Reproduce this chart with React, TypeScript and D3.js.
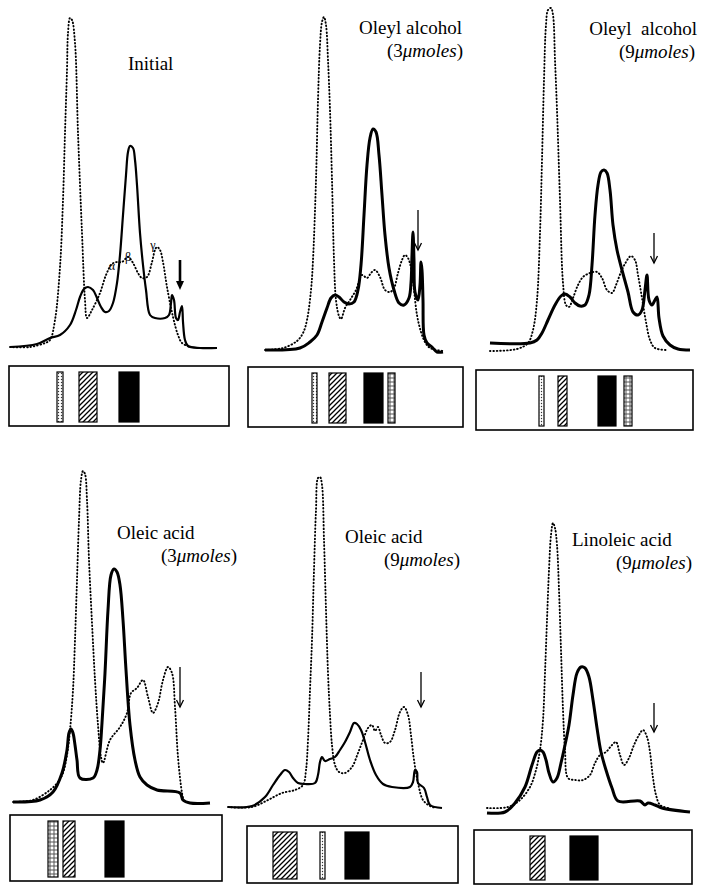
import React from 'react';
import * as d3 from 'd3';

type Pt = [number, number];
type Band = { kind: 'dots' | 'hatch' | 'solid' | 'stipple'; from: number; to: number };

// [scan distance, absorbance above baseline]
const initialDotted: Pt[] = [
  [0, 3], [20, 3], [35, 7], [40, 10], [45, 30], [50, 83], [53, 150], [55, 217], [57, 280], [58, 317],
  [60, 332], [62, 330], [65, 307], [68, 217], [72, 117], [75, 50], [77, 32], [82, 40], [90, 57], [96, 75],
  [102, 86], [107, 88], [112, 88], [118, 93], [123, 87], [128, 77], [132, 72], [137, 73], [142, 88],
  [145, 100], [147, 103], [150, 100], [153, 88], [157, 63], [163, 33], [168, 15], [172, 7], [180, 3],
];
const initialSolid: Pt[] = [
  [0, 3], [27, 6], [40, 12], [50, 15], [60, 25], [66, 40], [70, 53], [74, 61], [78, 63], [83, 60],
  [87, 52], [91, 43], [95, 38], [99, 39], [103, 47], [107, 67], [110, 95], [113, 135], [116, 175],
  [118, 198], [120, 204], [123, 202], [125, 190], [127, 165], [130, 117], [133, 85], [136, 60], [140, 35],
  [145, 32], [155, 32], [159, 35], [161, 47], [162, 55], [164, 50], [166, 32], [168, 30], [170, 38],
  [172, 44], [173, 28], [175, 10], [178, 4], [190, 2], [207, 2],
];
const oleyl3Dotted: Pt[] = [
  [3, 0], [21, 2], [35, 9], [41, 17], [45, 30], [49, 60], [51, 90], [54, 170], [56, 250], [58, 305],
  [60, 328], [62, 333], [64, 325], [66, 290], [68, 240], [70, 170], [72, 90], [74, 50], [77, 34], [79, 31],
  [83, 42], [88, 50], [94, 60], [100, 75], [105, 72], [109, 77], [113, 80], [118, 73], [123, 60], [128, 58],
  [132, 62], [136, 77], [140, 90], [143, 95], [146, 92], [149, 82], [152, 60], [155, 35], [159, 18],
  [163, 8], [168, 2], [181, -1],
];
const oleyl3Solid: Pt[] = [
  [3, 0], [38, 2], [48, 8], [55, 15], [60, 28], [65, 42], [69, 52], [73, 55], [77, 53], [82, 48], [87, 46],
  [92, 48], [96, 60], [99, 85], [102, 135], [105, 185], [108, 212], [111, 221], [114, 218], [117, 195],
  [120, 155], [123, 115], [127, 82], [132, 60], [137, 47], [142, 45], [147, 52], [149, 67], [150, 95],
  [151, 118], [152, 90], [153, 58], [156, 50], [158, 65], [159, 88], [160, 80], [161, 50], [162, 15],
  [165, 7], [170, 3], [175, -2], [181, -2],
];
const oleyl9Dotted: Pt[] = [
  [2, -1], [29, 1], [40, 7], [45, 20], [49, 50], [52, 117], [54, 190], [56, 270], [58, 325], [60, 340],
  [63, 342], [65, 335], [67, 290], [69, 240], [72, 150], [75, 67], [78, 45], [81, 43], [85, 52], [90, 65],
  [95, 73], [102, 77], [109, 78], [114, 72], [119, 60], [124, 57], [128, 65], [133, 78], [138, 88],
  [143, 94], [147, 90], [150, 75], [154, 52], [158, 28], [162, 10], [167, 2], [180, 0],
];
const oleyl9Solid: Pt[] = [
  [2, 7], [42, 7], [49, 10], [54, 17], [60, 30], [67, 45], [73, 54], [77, 56], [82, 53], [87, 47], [92, 44],
  [97, 45], [101, 55], [104, 85], [107, 135], [110, 165], [113, 178], [116, 180], [119, 177], [122, 160],
  [125, 125], [129, 100], [134, 80], [140, 58], [145, 38], [150, 35], [154, 40], [157, 60], [159, 75],
  [161, 50], [164, 45], [167, 50], [169, 53], [171, 32], [175, 14], [182, 5], [190, 1], [202, 0],
];
const oleic3Dotted: Pt[] = [
  [3, 3], [23, 5], [40, 15], [48, 23], [53, 32], [57, 50], [60, 75], [63, 115], [65, 165], [67, 225],
  [69, 285], [71, 325], [73, 334], [75, 331], [77, 305], [79, 245], [82, 182], [85, 125], [88, 80], [91, 48],
  [93, 42], [100, 65], [110, 78], [117, 92], [121, 112], [127, 117], [133, 125], [138, 108], [143, 92],
  [148, 102], [153, 125], [158, 138], [162, 132], [165, 98], [168, 48], [172, 12], [174, 3],
];
const oleic3Solid: Pt[] = [
  [3, 3], [30, 5], [43, 13], [52, 32], [57, 55], [59, 72], [61, 76], [63, 72], [65, 60], [67, 45], [70, 27],
  [83, 27], [87, 35], [90, 55], [92, 82], [95, 132], [98, 195], [101, 230], [104, 236], [107, 233],
  [110, 220], [113, 185], [116, 135], [120, 80], [125, 45], [130, 28], [137, 20], [147, 15], [170, 12],
  [173, 5], [180, 2], [200, 2],
];
const oleic9Dotted: Pt[] = [
  [0, 1], [24, 1], [40, 8], [54, 15], [67, 18], [75, 23], [78, 38], [80, 68], [82, 118], [84, 168],
  [86, 238], [88, 298], [90, 330], [92, 331], [94, 323], [96, 268], [98, 198], [100, 135], [102, 93],
  [104, 63], [107, 43], [111, 36], [117, 35], [124, 41], [130, 55], [135, 68], [140, 80], [144, 83],
  [147, 77], [150, 81], [153, 73], [157, 65], [162, 66], [167, 78], [172, 96], [176, 101], [180, 93],
  [183, 73], [186, 48], [190, 25], [195, 8], [202, 2], [208, 0],
];
const oleic9Solid: Pt[] = [
  [0, 1], [24, 2], [37, 11], [45, 23], [52, 33], [57, 38], [61, 36], [65, 30], [70, 25], [77, 24], [87, 25],
  [90, 33], [92, 46], [94, 51], [97, 47], [102, 49], [107, 51], [112, 58], [117, 66], [122, 76], [126, 85],
  [129, 84], [133, 78], [137, 66], [142, 48], [148, 33], [155, 24], [164, 21], [182, 21], [185, 26],
  [187, 38], [189, 36], [190, 25], [196, 20], [199, 11], [202, 3], [214, 0],
];
const linoleic9Dotted: Pt[] = [
  [0, 2], [21, 3], [33, 10], [43, 23], [49, 40], [53, 60], [56, 90], [58, 137], [60, 190], [62, 240],
  [64, 275], [66, 287], [68, 282], [70, 265], [72, 220], [74, 160], [76, 100], [78, 60], [81, 32], [88, 30],
  [96, 30], [103, 35], [108, 47], [113, 55], [119, 58], [125, 65], [129, 68], [133, 55], [137, 45],
  [142, 52], [147, 65], [152, 75], [156, 80], [160, 73], [163, 58], [166, 32], [169, 15], [173, 5], [181, 2],
];
const linoleic9Solid: Pt[] = [
  [0, -3], [18, -2], [28, 7], [38, 23], [45, 45], [50, 58], [53, 60], [56, 58], [59, 50], [62, 37], [66, 28],
  [70, 32], [74, 47], [78, 65], [82, 85], [86, 115], [90, 137], [94, 143], [98, 142], [102, 133], [106, 110],
  [110, 82], [114, 58], [119, 40], [125, 22], [131, 9], [153, 9], [158, 5], [161, 7], [168, 5], [175, 2],
  [203, -2],
];

// gel strip bands: [from, to] along the same scan distance
const initialBands: Band[] = [
  { kind: 'dots', from: 47, to: 53 }, { kind: 'hatch', from: 69, to: 87 }, { kind: 'solid', from: 109, to: 129 },
];
const oleyl3Bands: Band[] = [
  { kind: 'dots', from: 50, to: 55 }, { kind: 'hatch', from: 67, to: 84 },
  { kind: 'solid', from: 102, to: 121 }, { kind: 'stipple', from: 126, to: 133 },
];
const oleyl9Bands: Band[] = [
  { kind: 'dots', from: 51, to: 56 }, { kind: 'hatch', from: 70, to: 79 },
  { kind: 'solid', from: 110, to: 128 }, { kind: 'stipple', from: 136, to: 144 },
];
const oleic3Bands: Band[] = [
  { kind: 'stipple', from: 38, to: 48 }, { kind: 'hatch', from: 53, to: 65 }, { kind: 'solid', from: 95, to: 114 },
];
const oleic9Bands: Band[] = [
  { kind: 'hatch', from: 45, to: 69 }, { kind: 'dots', from: 92, to: 97 }, { kind: 'solid', from: 117, to: 141 },
];
const linoleic9Bands: Band[] = [
  { kind: 'hatch', from: 43, to: 58 }, { kind: 'solid', from: 83, to: 111 },
];

// arrow: [distance, top absorbance, tip absorbance]
const arrows: [number, number, number][] = [
  [170, 90, 60], [156, 140, 100], [166, 117, 87], [170, 138, 98], [193, 136, 101], [167, 107, 78],
];

const titles: [string, string | null][] = [
  ['Initial', null],
  ['Oleyl alcohol', '3'],
  ['Oleyl  alcohol', '9'],
  ['Oleic acid', '3'],
  ['Oleic acid', '9'],
  ['Linoleic acid', '9'],
];

const panels = [
  { dotted: initialDotted, solid: initialSolid, bands: initialBands, x0: 10, y0: 350, sw: 2.2,
    box: [9, 366, 220, 60], t1: [128, 70, 'start'], t2: null, bold: true },
  { dotted: oleyl3Dotted, solid: oleyl3Solid, bands: oleyl3Bands, x0: 262, y0: 350, sw: 3,
    box: [248, 367, 215, 60], t1: [462, 34, 'end'], t2: [463, 57, 'end'], bold: false },
  { dotted: oleyl9Dotted, solid: oleyl9Solid, bands: oleyl9Bands, x0: 488, y0: 350, sw: 3,
    box: [476, 370, 217, 60], t1: [697, 35, 'end'], t2: [695, 58, 'end'], bold: false },
  { dotted: oleic3Dotted, solid: oleic3Solid, bands: oleic3Bands, x0: 10, y0: 805, sw: 3,
    box: [10, 815, 212, 66], t1: [117, 539, 'start'], t2: [237, 562, 'end'], bold: false },
  { dotted: oleic9Dotted, solid: oleic9Solid, bands: oleic9Bands, x0: 228, y0: 808, sw: 2.2,
    box: [247, 826, 211, 57], t1: [345, 543, 'start'], t2: [460, 566, 'end'], bold: false },
  { dotted: linoleic9Dotted, solid: linoleic9Solid, bands: linoleic9Bands, x0: 487, y0: 810, sw: 3,
    box: [474, 830, 218, 54], t1: [572, 546, 'start'], t2: [692, 569, 'end'], bold: false },
];

const greek: [string, number, number][] = [['α', 102, 80], ['β', 118, 89], ['γ', 143, 101]];

const FONT = '"Liberation Serif", "DejaVu Serif", serif';

const Panel: React.FC<{ p: typeof panels[number]; i: number }> = ({ p, i }) => {
  const x = d3.scaleLinear().domain([0, 220]).range([p.x0, p.x0 + 220]);
  const y = d3.scaleLinear().domain([0, 340]).range([p.y0, p.y0 - 340]);
  const line = d3.line<Pt>().x(d => x(d[0])).y(d => y(d[1])).curve(d3.curveCatmullRom.alpha(0.5));
  const [ax, aTop, aTip] = arrows[i];
  const [bx, by, bw, bh] = p.box;
  const [title, amount] = titles[i];
  const tipY = y(aTip);
  return (
    <g>
      <path d={line(p.dotted) || ''} fill="none" stroke="#000" strokeWidth={1.9}
        strokeDasharray="0.6 2.8" strokeLinecap="round" />
      <path d={line(p.solid) || ''} fill="none" stroke="#000" strokeWidth={p.sw} strokeLinejoin="round" />
      {p.bold ? (
        <g>
          <line x1={x(ax)} x2={x(ax)} y1={y(aTop)} y2={tipY - 6} stroke="#000" strokeWidth={2.6} />
          <path d={`M${x(ax) - 4},${tipY - 9} L${x(ax) + 4},${tipY - 9} L${x(ax)},${tipY} Z`} fill="#000" />
        </g>
      ) : (
        <g stroke="#000" strokeWidth={1.3} fill="none">
          <line x1={x(ax)} x2={x(ax)} y1={y(aTop)} y2={tipY} />
          <path d={`M${x(ax) - 3.5},${tipY - 7} L${x(ax)},${tipY} L${x(ax) + 3.5},${tipY - 7}`} />
        </g>
      )}
      {i === 0 && greek.map(([g, gx, gy]) => (
        <text key={g} x={x(gx)} y={y(gy)} fontFamily={FONT} fontSize={12} textAnchor="middle">{g}</text>
      ))}
      <text x={p.t1[0] as number} y={p.t1[1] as number} textAnchor={p.t1[2] as any}
        fontFamily={FONT} fontSize={19} style={{ whiteSpace: 'pre' }}>{title}</text>
      {amount && p.t2 && (
        <text x={p.t2[0] as number} y={p.t2[1] as number} textAnchor={p.t2[2] as any}
          fontFamily={FONT} fontSize={19}>
          ({amount}<tspan fontStyle="italic">μmoles</tspan>)
        </text>
      )}
      <rect x={bx} y={by} width={bw} height={bh} fill="none" stroke="#000" strokeWidth={1.6} />
      {p.bands.map((b, k) => (
        <rect key={k} x={x(b.from)} y={by + 6} width={x(b.to) - x(b.from)} height={bh - 10}
          fill={b.kind === 'solid' ? '#000' : `url(#${b.kind})`} stroke="#000" strokeWidth={1.2} />
      ))}
    </g>
  );
};

export default function App() {
  return (
    <svg width={701} height={885} style={{ position: 'absolute', left: 0, top: 0, background: '#fff' }}>
      <defs>
        <pattern id="hatch" patternUnits="userSpaceOnUse" width={5} height={5}>
          <rect width={5} height={5} fill="#fff" />
          <path d="M-1,1 l2,-2 M0,5 l5,-5 M4,6 l2,-2" stroke="#000" strokeWidth={1.3} />
        </pattern>
        <pattern id="stipple" patternUnits="userSpaceOnUse" width={4} height={4}>
          <rect width={4} height={4} fill="#fff" />
          <circle cx={2} cy={2} r={1.2} fill="none" stroke="#000" strokeWidth={0.7} />
        </pattern>
        <pattern id="dots" patternUnits="userSpaceOnUse" width={3} height={3}>
          <rect width={3} height={3} fill="#fff" />
          <circle cx={1.5} cy={1.5} r={0.7} fill="#333" />
        </pattern>
      </defs>
      <rect width={701} height={885} fill="#fff" />
      {panels.map((p, i) => <Panel key={i} p={p} i={i} />)}
    </svg>
  );
}
